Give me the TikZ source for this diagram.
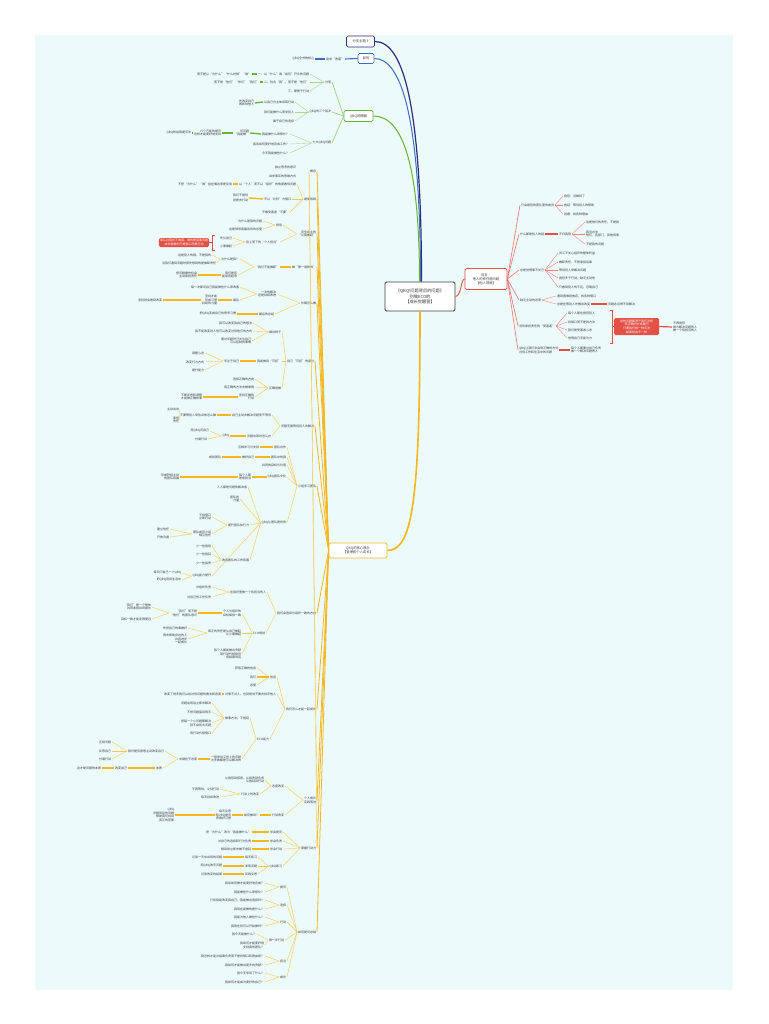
\documentclass[tikz,border=0pt]{standalone}
\usepackage{fontspec}
\setmainfont{Noto Sans CJK SC}
\usetikzlibrary{calc}

\begin{document}
\begin{tikzpicture}[x=1pt, y=-1pt,
    lt/.style={anchor=east, align=right, inner sep=0.8pt, text=txt, font=\fontsize{3}{3.7}\selectfont},
    rt/.style={anchor=west, align=left, inner sep=0.8pt, text=txt, font=\fontsize{3}{3.7}\selectfont},
    topic/.style={rectangle, rounded corners=1.5pt, fill=white, line width=0.7pt, align=center, text=txt, font=\fontsize{3.3}{4}\selectfont, inner sep=1.2pt},
    redbox/.style={rectangle, rounded corners=1.5pt, fill=cred, text=white, align=center, font=\fontsize{3}{3.7}\selectfont, inner sep=1.2pt},
    gmid/.style={draw=cgreen!70, line width=0.6pt},
    gthin/.style={draw=cgreen!55, line width=0.4pt},
    gthick/.style={draw=cgreen, line width=1.3pt},
    bthick/.style={draw=cblue, line width=1.1pt},
    ymid/.style={draw=cyel, line width=0.8pt},
    ythin/.style={draw=cyel!75, line width=0.4pt},
    ythick/.style={draw=cyel, line width=1.4pt},
    rmid/.style={draw=cred!80, line width=0.6pt},
    rthin/.style={draw=cred!70, line width=0.4pt},
    rthick/.style={draw=cred, line width=1.2pt}
]

  % --- Color Definitions ---
  \definecolor{bgc}{RGB}{237, 250, 250}
  \definecolor{txt}{RGB}{55, 55, 55}
  \definecolor{cnavy}{RGB}{45, 45, 125}
  \definecolor{cblue}{RGB}{60, 110, 190}
  \definecolor{cgreen}{RGB}{100, 180, 55}
  \definecolor{cyel}{RGB}{245, 182, 30}
  \definecolor{cred}{RGB}{228, 80, 70}

  % --- Canvas ---
  \useasboundingbox (0,0) rectangle (768,1024);
  \fill[white] (0,0) rectangle (768,1024);
  \fill[bgc] (35,35) rectangle (733,990);

  % --- Center and main topics ---
  \node[topic, draw=black!75, line width=0.8pt, minimum width=70, minimum height=29, font=\fontsize{4.2}{5.2}\selectfont] (ctr) at (420,296.5) {《QBQ!问题背后的问题》\\别做ECO的\\【成长觉醒营】};
  \node[topic, draw=cnavy, minimum width=28, minimum height=11] (B1) at (360.5,41.5) {分支主题 3};
  \node[topic, draw=cblue, minimum width=16, minimum height=10] (B2) at (366,58.5) {目的};
  \node[topic, draw=cgreen, minimum width=29, minimum height=11] (B3) at (358.5,116) {QBQ的精髓};
  \node[topic, draw=cyel, line width=0.8pt, minimum width=58, minimum height=15] (O) at (358,550.5) {QBQ的核心理念\\【管理和个人成长】};
  \node[topic, draw=cred, minimum width=42, minimum height=21] (RT) at (486,279) {前言·\\他人的责任感问题\\【他人视角】};

  \draw[cnavy, line width=1.2pt] ([xshift=1.5pt]ctr.north) .. controls +(0,-170) and +(30,0) .. (B1.east);
  \draw[cblue, line width=1pt] ([xshift=0.5pt]ctr.north) .. controls +(0,-160) and +(28,0) .. (B2.east);
  \draw[cgreen, line width=1pt] ([xshift=-0.5pt]ctr.north) .. controls +(0,-115) and +(30,0) .. (B3.east);
  \draw[cyel, line width=1.6pt] (ctr.south) .. controls +(0,190) and +(25,0) .. (O.east);
  \draw[cred, line width=0.9pt] (ctr.east) .. controls +(6,0) and +(-4,0) .. (RT.west);

  % --- Top: purpose and essence ---
  \node[lt] (a1) at (345,59) {追求“改善”};
  \node[lt] (a2) at (315,59) {QBQ全书的核心};
  \node[lt] (g1) at (332,82) {分享};
  \node[lt] (g11) at (310,74) {一、以“什么”或“如何”开头的问题};
  \node[lt] (g111) at (252,74) {而不是以“为什么”“什么时候”“谁”};
  \node[lt] (g12) at (310,82) {二、包含“我”，而不是“他们”};
  \node[lt] (g121) at (260,82) {而不是“他们”“你们”“我们”};
  \node[lt] (g13) at (310,91) {三、聚焦于行动};
  \node[lt] (g2) at (332,112) {QBQ的三个层次};
  \node[lt] (g21) at (295,102) {以自己为主体采取行动};
  \node[lt] (g211) at (255,103) {先改变自己\\再影响他人};
  \node[lt] (g22) at (295,112) {我们能做什么而非别人};
  \node[lt] (g23) at (295,121) {属于自己的选择};
  \node[lt] (g3) at (332,143) {七大QBQ问题};
  \node[lt] (g31) at (290,134) {我能做什么来帮忙？};
  \node[lt] (g311) at (250,133) {问问题\\“我能做”};
  \node[lt] (g3111) at (222,133) {六个万能的提问\\怎样才能更好地支持};
  \node[lt] (g31111) at (192,133) {QBQ的自我提问法};
  \node[lt] (g32) at (290,144) {我该如何更好地完成工作？};
  \node[lt] (g33) at (290,153) {今天我能做些什么？};

  \draw[bthick] (B2.west) -- (a1.east);
  \draw[bthick] (a1.west) -- (a2.east);
  \foreach \src/\dst in {B3/g1, B3/g2, B3/g3}
    \draw[gmid] (\src.west) .. controls ($(\src.west)!0.5!(\dst.east)$ |- \src.west) and ($(\src.west)!0.5!(\dst.east)$ |- \dst.east) .. (\dst.east);
  \foreach \src/\dst in {g1/g11, g1/g12, g1/g13, g2/g21, g2/g22, g2/g23, g3/g31, g3/g32, g3/g33}
    \draw[gthin] (\src.west) .. controls ($(\src.west)!0.5!(\dst.east)$ |- \src.west) and ($(\src.west)!0.5!(\dst.east)$ |- \dst.east) .. (\dst.east);
  \foreach \src/\dst in {g11/g111, g12/g121, g21/g211, g31/g311, g311/g3111, g3111/g31111}
    \draw[gthick] (\src.west) .. controls ($(\src.west)!0.5!(\dst.east)$ |- \src.west) and ($(\src.west)!0.5!(\dst.east)$ |- \dst.east) .. (\dst.east);

  % --- Core ideas (left trunk) ---
  \node[lt] (o1) at (317,171) {概念};
  \node[lt] (o11) at (297,167) {独立思考的意识};
  \node[lt] (o12) at (297,176) {讲求事实的思维方式};
  \node[lt] (o2) at (317,199) {避免陷阱};
  \node[lt] (o21) at (297,184) {以“个人”而不以“组织”的角度看待问题};
  \node[lt] (o211) at (233,184) {不把“为什么”“谁”挂在嘴边而是反省};
  \node[lt] (o22) at (292,199) {不以“比较”为借口};
  \node[lt] (o221) at (249,198) {我们不抱怨\\[1.5pt]就是去行动};
  \node[lt] (o23) at (290,212) {不做受害者“不要”};
  \node[lt] (o3) at (317,234) {完全自主的\\“从我做起”};
  \node[lt] (o31) at (283,225) {领导};
  \node[lt] (o311) at (263,221) {为什么是我的问题};
  \node[lt] (o312) at (263,229) {这是领导者最该有的态度};
  \node[lt] (o32) at (280,242) {自上而下的“个人担当”};
  \node[lt] (o321) at (233,238) {先从自己};
  \node[lt] (o322) at (233,246) {小事做起};
  \node[lt] (o4) at (317,267) {做“第一道防线”};
  \node[lt] (o41) at (280,267) {“我们不能推卸”};
  \node[lt] (o411) at (240,259) {为什么是我？};
  \node[lt] (o4111) at (212,255) {这是别人的错，不是我的};
  \node[lt] (o4112) at (217,263) {当我们遇到问题时首先想到的是推卸责任};
  \node[lt] (o412) at (238,275) {我们是否\\能承担起来};
  \node[lt] (o4121) at (198,275) {把问题看作机会\\主动承担责任};
  \node[lt] (o5) at (317,303) {长期怎么做};
  \node[lt] (o51) at (277,294) {一次性解决\\还是持续改进};
  \node[lt] (o511) at (240,287) {每一次都问自己我能做些什么来改善};
  \node[lt] (o512) at (240,300) {最后};
  \node[lt] (o5121) at (218,300) {坚持才能\\形成习惯\\持续的力量};
  \node[lt] (o51211) at (163,300) {坚持就会看到改变};
  \node[lt] (o52) at (275,314) {最后的总结};
  \node[lt] (o521) at (237,314) {把QBQ变成自己的思考习惯};
  \node[lt] (o6) at (315,361) {自己“可控”的部分};
  \node[lt] (o61) at (282,332) {细说例子};
  \node[lt] (o611) at (253,323) {我可以改变我自己的想法};
  \node[lt] (o612) at (253,331) {我不能改变别人但可以改变对待他们的方式};
  \node[lt] (o613) at (252,341) {面对问题时只关注自己\\可以控制的事情};
  \node[lt] (o62) at (282,361) {我能做到“可控”};
  \node[lt] (o621) at (240,361) {专注于自己};
  \node[lt] (o6211) at (205,353) {调整心态};
  \node[lt] (o6212) at (205,362) {改变行为方式};
  \node[lt] (o6213) at (205,370) {提升能力};
  \node[lt] (o63) at (282,388) {正确地做};
  \node[lt] (o631) at (255,379) {选择正确的方向};
  \node[lt] (o632) at (255,387) {用正确的方法去做事情};
  \node[lt] (o633) at (255,397) {坚持正确的\\行动};
  \node[lt] (o6331) at (203,397) {不断反思和调整\\才能做正确的事};
  \node[lt] (o7) at (315,426) {问题无需等待别人去解决};
  \node[lt] (o71) at (272,415) {自己主动去解决问题而不等待};
  \node[lt] (o711) at (217,415) {不要等别人来告诉你怎么做};
  \node[lt] (o7111) at (180,409) {主动出击};
  \node[lt] (o7112) at (180,420) {承担\\责任};
  \node[lt] (o72) at (272,436) {问题出现时怎么办};
  \node[lt] (o721) at (230,436) {QBQ};
  \node[lt] (o7211) at (210,431) {用QBQ问自己};
  \node[lt] (o7212) at (208,439) {付诸行动};
  \node[lt] (o8) at (317,486) {小组学习团队};
  \node[lt] (o81) at (287,447) {团队合作};
  \node[lt] (o811) at (260,447) {互相学习与支持};
  \node[lt] (o82) at (287,457) {团队中的我};
  \node[lt] (o821) at (255,457) {做好自己};
  \node[lt] (o8211) at (222,457) {成就团队};
  \node[lt] (o83) at (287,465) {共同的目标与价值};
  \node[lt] (o84) at (287,477) {QBQ团队文化};
  \node[lt] (o841) at (252,477) {每个人都\\愿意担当};
  \node[lt] (o8411) at (180,477) {形成积极主动\\的团队氛围};
  \node[lt] (o85) at (287,523) {QBQ让团队更优秀};
  \node[lt] (o851) at (248,487) {人人都是问题的解决者};
  \node[lt] (o852) at (240,499) {团队的\\力量};
  \node[lt] (o853) at (250,525) {提升团队执行力};
  \node[lt] (o8531) at (212,517) {不找借口\\立即行动};
  \node[lt] (o8532) at (212,534) {团队成员之间\\相互信任};
  \node[lt] (o85321) at (170,529) {建立信任};
  \node[lt] (o85322) at (170,537) {开放沟通};
  \node[lt] (o854) at (250,560) {改善团队的工作氛围};
  \node[lt] (o8541) at (212,546) {少一些抱怨};
  \node[lt] (o8542) at (212,554) {少一些拖延};
  \node[lt] (o8543) at (212,563) {少一些指责};
  \node[lt] (o855) at (212,576) {QBQ能力提升};
  \node[lt] (o8551) at (182,573) {每天问自己一个QBQ};
  \node[lt] (o8552) at (182,580) {把QBQ用到生活中};
  \node[lt] (o9) at (317,613) {我们会选择与组织一致的方向};
  \node[lt] (o91) at (267,592) {在组织里做一个有担当的人};
  \node[lt] (o911) at (212,587) {对组织负责};
  \node[lt] (o912) at (212,597) {对自己的工作负责};
  \node[lt] (o92) at (266,633) {ECO规划};
  \node[lt] (o921) at (242,613) {个人与组织的\\目标保持一致};
  \node[lt] (o9211) at (198,613) {“我们”而不是\\“他们”的团队意识};
  \node[lt] (o92111) at (152,607) {“我们”是一个整体\\共同承担共同成长};
  \node[lt] (o92112) at (152,619) {目标一致才能走得更远};
  \node[lt] (o922) at (242,633) {真正的责任是从自己做起\\从小事做起};
  \node[lt] (o9221) at (188,628) {先把自己的事做好};
  \node[lt] (o9222) at (188,639) {再去帮助身边的人\\共同进步\\一起成长};
  \node[lt] (o923) at (242,654) {每个人都能做出贡献\\用行动代替抱怨\\用结果说话};
  \node[lt] (o10) at (317,709) {我们怎么才能一起成长};
  \node[lt] (o101) at (277,677) {信息};
  \node[lt] (o1011) at (257,668) {获取正确的信息};
  \node[lt] (o1012) at (257,677) {我们};
  \node[lt] (o1013) at (257,685) {态度};
  \node[lt] (o102) at (277,694) {对事不对人，也就是说不要去批评他人};
  \node[lt] (o1021) at (222,694) {改变了很多我们以前对待问题的看法和态度};
  \node[lt] (o103) at (270,739) {ECO能力};
  \node[lt] (o1031) at (250,718) {做事方法，不拖延};
  \node[lt] (o10311) at (212,703) {问题出现后立即去解决};
  \node[lt] (o10312) at (212,712) {不把问题留到明天};
  \node[lt] (o10313) at (212,723) {把每一个小问题都解决\\就不会有大问题};
  \node[lt] (o10314) at (212,733) {用行动代替借口};
  \node[lt] (o1032) at (242,759) {一般来说工作上的问题\\大多数都是可以解决的};
  \node[lt] (o10321) at (198,759) {关键在于态度};
  \node[lt] (o103211) at (165,751) {我们是否愿意主动改变自己};
  \node[lt] (o1032111) at (112,742) {正视问题};
  \node[lt] (o1032112) at (112,751) {反思自己};
  \node[lt] (o1032113) at (112,759) {付诸行动};
  \node[lt] (o103212) at (163,768) {本质};
  \node[lt] (o1032121) at (128,768) {改变自己};
  \node[lt] (o10321211) at (102,768) {这才是问题的本质};
  \node[lt] (o11) at (317,800) {个人成长\\实践落地};
  \node[lt] (o111) at (285,786) {态度改变};
  \node[lt] (o1111) at (265,780) {从抱怨到感恩，从指责到负责\\从拖延到行动};
  \node[lt] (o1112) at (260,794) {行动上的改变};
  \node[lt] (o11121) at (220,789) {不再等待，立刻行动};
  \node[lt] (o11122) at (220,797) {每天持续改进};
  \node[lt] (o112) at (285,815) {行动改变};
  \node[lt] (o1121) at (260,815) {如何做到？};
  \node[lt] (o11211) at (232,815) {每天反思\\用QBQ提问\\养成好习惯};
  \node[lt] (o112111) at (175,815) {QBQ\\问题背后的问题\\帮助我们找到\\真正的答案};
  \node[lt] (o12) at (317,848) {掌握行动力};
  \node[lt] (o121) at (283,832) {学会提问};
  \node[lt] (o1211) at (252,832) {把“为什么”改为“我能做什么”};
  \node[lt] (o122) at (283,841) {学会负责};
  \node[lt] (o1221) at (252,841) {对自己的选择和行为负责};
  \node[lt] (o123) at (283,849) {学会行动};
  \node[lt] (o1231) at (252,849) {想到就立即去做不拖延};
  \node[lt] (o124) at (283,866) {QBQ练习};
  \node[lt] (o1241) at (258,857) {每天练习};
  \node[lt] (o12411) at (223,857) {记录一天中出现的问题};
  \node[lt] (o1242) at (258,866) {发现问题};
  \node[lt] (o12421) at (223,866) {用QBQ改写问题};
  \node[lt] (o1243) at (258,874) {实践反思};
  \node[lt] (o12431) at (223,874) {记录改变的结果};
  \node[lt] (o13) at (317,932) {如何提问总结};
  \node[lt] (o131) at (287,887) {提问};
  \node[lt] (o1311) at (265,883) {我该如何做才能更好地完成？};
  \node[lt] (o1312) at (265,892) {我能做些什么来帮忙？};
  \node[lt] (o132) at (287,905) {选择};
  \node[lt] (o1321) at (265,900) {只有我能改变我自己，我能做出选择吗？};
  \node[lt] (o1322) at (265,909) {我现在能做的是什么？};
  \node[lt] (o133) at (287,922) {行动};
  \node[lt] (o1331) at (265,917) {我能为他人做些什么？};
  \node[lt] (o1332) at (265,926) {我现在就可以开始做吗？};
  \node[lt] (o134) at (285,940) {第一步行动};
  \node[lt] (o1341) at (257,934) {我今天能做什么？};
  \node[lt] (o1342) at (265,945) {我如何才能更好地\\支持我的团队？};
  \node[lt] (o135) at (287,961) {担当};
  \node[lt] (o1351) at (265,956) {我怎样才能对结果负责而不是找借口和理由呢？};
  \node[lt] (o1352) at (265,965) {我如何才能做出更多的贡献？};
  \node[lt] (o136) at (287,977) {成长};
  \node[lt] (o1361) at (265,973) {我今天学到了什么？};
  \node[lt] (o1362) at (265,982) {我如何才能成为更好的自己？};

  \foreach \dst in {o1, o2, o3, o4, o5, o6, o7, o8, o9, o10, o11, o12, o13}
    \draw[ymid] (O.west) .. controls ($(O.west)!0.5!(\dst.east)$ |- O.west) and ($(O.west)!0.5!(\dst.east)$ |- \dst.east) .. (\dst.east);
  \foreach \src/\dst in {o1/o11, o1/o12, o2/o21, o2/o22, o2/o23,
      o3/o31, o3/o32, o31/o311, o31/o312, o32/o321, o32/o322,
      o41/o411, o41/o412, o411/o4111, o411/o4112,
      o5/o51, o5/o52, o51/o511, o51/o512,
      o6/o61, o6/o62, o6/o63, o61/o611, o61/o612, o61/o613,
      o621/o6211, o621/o6212, o621/o6213, o63/o631, o63/o632, o63/o633,
      o7/o71, o7/o72, o711/o7111, o711/o7112, o721/o7211, o721/o7212,
      o8/o81, o8/o82, o8/o83, o8/o84, o8/o85,
      o85/o851, o85/o852, o85/o853, o85/o854, o85/o855,
      o853/o8531, o853/o8532, o8532/o85321, o8532/o85322,
      o854/o8541, o854/o8542, o854/o8543, o855/o8551, o855/o8552,
      o9/o91, o9/o92, o91/o911, o91/o912, o92/o921, o92/o922, o92/o923,
      o9211/o92111, o9211/o92112, o922/o9221, o922/o9222,
      o10/o101, o10/o102, o10/o103, o101/o1011, o101/o1013,
      o103/o1031, o103/o1032, o1031/o10311, o1031/o10312, o1031/o10313, o1031/o10314,
      o10321/o103211, o10321/o103212,
      o103211/o1032111, o103211/o1032112, o103211/o1032113,
      o11/o111, o11/o112, o111/o1111, o111/o1112, o1112/o11121, o1112/o11122,
      o12/o121, o12/o122, o12/o123, o12/o124, o124/o1241, o124/o1242, o124/o1243,
      o13/o131, o13/o132, o13/o133, o13/o134, o13/o135, o13/o136,
      o131/o1311, o131/o1312, o132/o1321, o132/o1322, o133/o1331, o133/o1332,
      o134/o1341, o134/o1342, o135/o1351, o135/o1352, o136/o1361, o136/o1362}
    \draw[ythin] (\src.west) .. controls ($(\src.west)!0.5!(\dst.east)$ |- \src.west) and ($(\src.west)!0.5!(\dst.east)$ |- \dst.east) .. (\dst.east);
  \foreach \src/\dst in {o21/o211, o22/o221, o4/o41, o412/o4121, o512/o5121, o5121/o51211,
      o52/o521, o62/o621, o633/o6331, o71/o711, o72/o721, o81/o811, o82/o821, o821/o8211,
      o84/o841, o841/o8411, o921/o9211, o101/o1012, o102/o1021, o1032/o10321,
      o103212/o1032121, o1032121/o10321211, o112/o1121, o1121/o11211, o11211/o112111,
      o121/o1211, o122/o1221, o123/o1231, o1241/o12411, o1242/o12421, o1243/o12431}
    \draw[ythick] (\src.west) .. controls ($(\src.west)!0.5!(\dst.east)$ |- \src.west) and ($(\src.west)!0.5!(\dst.east)$ |- \dst.east) .. (\dst.east);

  % --- Red note on the left ---
  \node[redbox, minimum width=48, minimum height=9] (R1) at (184,242.5) {承认过错并不难堪，难的是直面问题\\成长需要的不是借口而是行动};
  \coordinate (brk1) at (212,242.5);
  \draw[cred, line width=0.8pt] (214.5,235) -- (212,235) -- (212,250) -- (214.5,250);
  \draw[cred, line width=0.8pt] (brk1) -- (R1.east);

  % --- Preface (right side) ---
  \node[rt] (r1) at (520,205) {只会抱怨的团队里的成员};
  \node[rt] (r11) at (563,196) {抱怨：没做到了};
  \node[rt] (r12) at (563,205) {拖延：等待别人的帮助};
  \node[rt] (r13) at (563,214) {逃避：找各种理由};
  \node[rt] (r2) at (519,234) {什么都是别人的错};
  \node[rt] (r21) at (558,234) {不归我管};
  \node[rt] (r211) at (585,222) {这是他们的责任，不是我};
  \node[rt] (r212) at (585,234) {我没办法\\他们、各部门、其他同事};
  \node[rt] (r213) at (585,244) {不是我的问题};
  \node[rt] (r3) at (519,270) {总是觉得事不关己};
  \node[rt] (r31) at (558,253) {员工不关心组织的整体利益};
  \node[rt] (r32) at (558,262) {推卸责任，不愿承担后果};
  \node[rt] (r33) at (558,270) {等待别人来解决问题};
  \node[rt] (r34) at (558,278) {抱怨多于行动，缺乏主动性};
  \node[rt] (r35) at (558,287) {只看到别人的不足，忽略自己};
  \node[rt] (r4) at (519,300) {缺乏主动的态度};
  \node[rt] (r41) at (556,296) {遇到困难就放弃，找各种借口};
  \node[rt] (r42) at (556,304) {总是在等别人先做出改变};
  \node[rt] (r421) at (607,304) {问题永远得不到解决};
  \node[rt] (r5) at (518,326) {没有承担责任的“受害者”};
  \node[rt] (r51) at (567,313) {每个人都在抱怨别人};
  \node[rt] (r52) at (567,322) {找借口而不是找方法};
  \node[rt] (r53) at (567,330) {我们是受害者心态};
  \node[rt] (r54) at (567,338) {觉得自己无能为力};
  \node[rt] (r7) at (518,350) {QBQ让我们学会用正确的方式\\对待工作和生活中的问题};
  \node[rt] (r71) at (570,350) {每个人都要对自己负责\\做一个解决问题的人};
  \node[redbox, minimum width=45, minimum height=17] (R2) at (636.5,326.5) {这些问题都源于我们没有\\用正确的方式提问\\只要我们换一种问法\\结果就会不一样};
  \node[rt] (rr) at (672,327) {不再抱怨\\成为解决问题的人\\做一个有担当的人};
  \coordinate (brk2) at (612,326.5);
  \draw[cred, line width=0.8pt] (609.5,310) -- (612,310) -- (612,343) -- (609.5,343);
  \draw[cred, line width=0.8pt] (brk2) -- (R2.west);

  \foreach \dst in {r1, r2, r3, r4, r5, r7}
    \draw[rmid] (RT.east) .. controls ($(RT.east)!0.5!(\dst.west)$ |- RT.east) and ($(RT.east)!0.5!(\dst.west)$ |- \dst.west) .. (\dst.west);
  \foreach \src/\dst in {r1/r11, r1/r12, r1/r13, r21/r211, r21/r212, r21/r213,
      r3/r31, r3/r32, r3/r33, r3/r34, r3/r35, r4/r41, r4/r42,
      r5/r51, r5/r52, r5/r53, r5/r54}
    \draw[rthin] (\src.east) .. controls ($(\src.east)!0.5!(\dst.west)$ |- \src.east) and ($(\src.east)!0.5!(\dst.west)$ |- \dst.west) .. (\dst.west);
  \foreach \src/\dst in {r2/r21, r42/r421, r7/r71, R2/rr}
    \draw[rthick] (\src.east) -- (\dst.west);

\end{tikzpicture}
\end{document}
